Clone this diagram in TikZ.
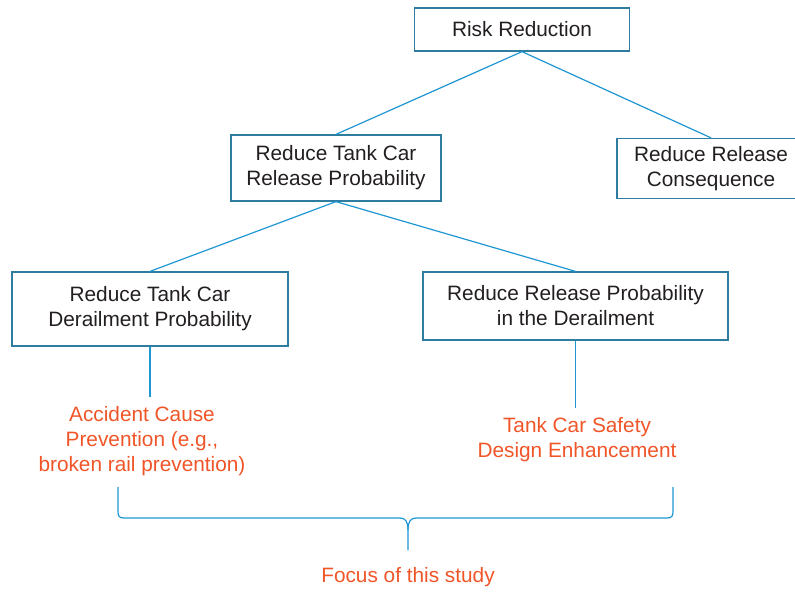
\documentclass[tikz,border=0pt]{standalone}
\usepackage{fontspec}
\setmainfont{Liberation Sans}
\usetikzlibrary{positioning}
\definecolor{boxblue}{RGB}{46,125,160}
\definecolor{lineblue}{RGB}{30,150,210}
\definecolor{focusred}{RGB}{240,85,40}
\definecolor{textgrey}{RGB}{35,31,32}
\tikzstyle{every node}=[font=\fontsize{15.6}{18.75}\selectfont, text=textgrey]
\tikzstyle{box}=[draw=boxblue, line width=0.95pt, fill=white, rectangle, align=center]
\tikzstyle{link}=[draw=lineblue, line width=0.9pt]
\tikzstyle{measure}=[text=focusred, align=center, inner sep=7pt]

\begin{document}
\begin{tikzpicture}[x=0.75pt, y=-0.75pt]
  \useasboundingbox (0,0) rectangle (795,592);
  % tree of goals
  \node[box, minimum width=161.25pt, minimum height=32.25pt] (risk) at (522,29.5) {Risk Reduction};
  \node[box, minimum width=157.5pt, minimum height=49.5pt] (relprob) at (336,168) {Reduce Tank Car\\Release Probability};
  \node[box, minimum width=141pt, minimum height=45pt] (conseq) at (711,168.5) {Reduce Release\\Consequence};
  \node[box, minimum width=207pt, minimum height=55.5pt] (derail) at (150,309) {Reduce Tank Car\\Derailment Probability};
  \node[box, minimum width=228.75pt, minimum height=51pt] (inderail) at (575.5,306) {Reduce Release Probability\\in the Derailment};
  % measures
  \node[measure] (cause) at (142,441) {Accident Cause\\Prevention (e.g.,\\broken rail prevention)};
  \node[measure] (design) at (577,439.5) {Tank Car Safety\\Design Enhancement};
  \node[text=focusred] (focus) at (408,577) {Focus of this study};
  \draw[link] (risk.south) -- (relprob.north);
  \draw[link] (risk.south) -- (conseq.north);
  \draw[link] (relprob.south) -- (derail.north);
  \draw[link] (relprob.south) -- (inderail.north);
  \draw[link] (derail.south) -- (derail.south |- cause.north);
  \draw[link] (inderail.south) -- (inderail.south |- design.north);
  % brace
  \coordinate (braceL) at (118,487);
  \coordinate (braceR) at (673,487);
  \coordinate (braceTip) at (408,550);
  \draw[link] (braceL) -- (118,511) .. controls (118,516) and (119,518) .. (124,518)
    -- (400,518) .. controls (405,518) and (408,521) .. (408,530) -- (braceTip);
  \draw[link] (braceR) -- (673,511) .. controls (673,516) and (672,518) .. (667,518)
    -- (416,518) .. controls (411,518) and (408,521) .. (408,530);
\end{tikzpicture}
\end{document}
